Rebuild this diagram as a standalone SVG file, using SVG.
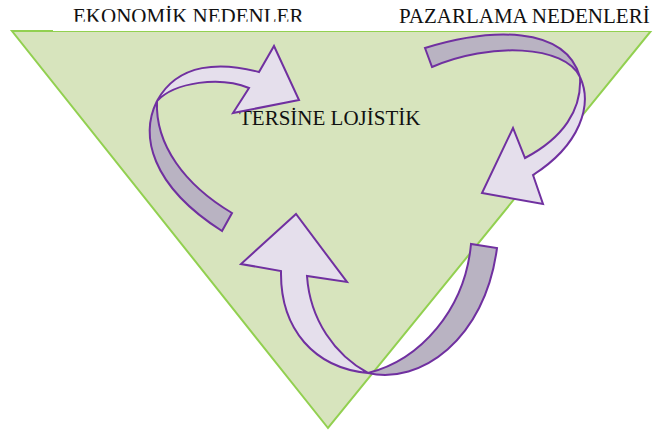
<svg xmlns="http://www.w3.org/2000/svg" width="660" height="435" viewBox="0 0 660 435">
  <style>
    .title { font-family: "Liberation Serif", "Times New Roman", serif; font-size: 21px; fill: #111; }
    .front { fill: #e5dfec; stroke: #7030a0; stroke-width: 2; stroke-linejoin: miter; }
    .back { fill: #b9b3c2; stroke: #7030a0; stroke-width: 2; stroke-linejoin: miter; }
  </style>
  <defs>
    <clipPath id="titleClip">
      <rect x="0" y="0" width="330" height="21.7"/>
    </clipPath>
  </defs>
  <rect width="660" height="435" fill="#ffffff"/>

  <!-- inverted triangle background -->
  <g id="triangle">
    <polygon points="12,31 651,31 328,428" fill="#d7e4bd" stroke="#92d050" stroke-width="2"/>
    <!-- heading text box sits over the top edge -->
    <rect x="53" y="0" width="607" height="31" fill="#ffffff"/>
  </g>

  <!-- headings -->
  <g id="label-economic">
    <text class="title" x="73" y="23" clip-path="url(#titleClip)">EKONOMİK NEDENLER</text>
  </g>
  <g id="label-marketing">
    <text class="title" x="399" y="23">PAZARLAMA NEDENLERİ</text>
  </g>
  <g id="label-center">
    <text class="title" x="239" y="125" font-size="20.5">TERSİNE LOJİSTİK</text>
  </g>

  <!-- circular curved arrows -->
  <g id="connectors">
    <g id="arrow-left">
      <path class="back" d="M157,101 C140,135 150,185 222,231 L232,213 C185,185 155,145 157,101 Z"/>
      <path class="front" d="M157,101 C175,82 220,76 249,88 L233,113 L299,100 L274,46 L259,72 C222,62 178,62 157,101 Z"/>
    </g>
    <g id="arrow-right">
      <path class="back" d="M425,48 C490,28 565,25 580,77 C565,45 490,42 432,67 Z"/>
      <path class="front" d="M580,77 C593,105 580,145 533,175 L543,204 L482,193 L513,128 L525,158 C563,138 582,110 580,77 Z"/>
    </g>
    <g id="arrow-bottom">
      <path class="back" d="M368,373 C420,385 485,340 497,248 L471,244 C465,310 420,360 368,373 Z"/>
      <path class="front" d="M368,373 C315,368 280,330 281,271 L241,264 L296,214 L347,282 L307,276 C310,320 335,355 368,373 Z"/>
    </g>
  </g>
</svg>
